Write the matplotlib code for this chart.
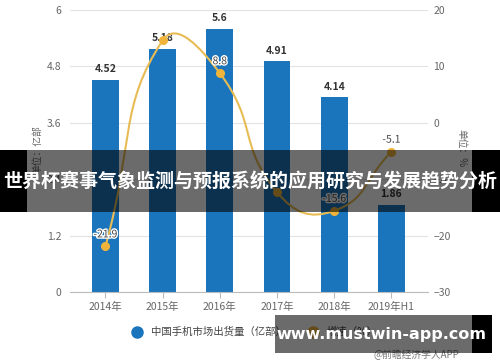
import numpy as np
import matplotlib
matplotlib.use("Agg")
import matplotlib.pyplot as plt
from matplotlib.path import Path
from matplotlib.patches import PathPatch, Rectangle
from matplotlib.lines import Line2D
import matplotlib.patheffects as pe

plt.rcParams['font.family'] = ['Noto Sans CJK SC', 'DejaVu Sans']

# data
years = ['2014年', '2015年', '2016年', '2017年', '2018年', '2019年H1']
shipments = [4.52, 5.18, 5.6, 4.91, 4.14, 1.86]      # 亿部
growth = [-21.9, 14.6, 8.8, -12.3, -15.6, -5.1]       # %
growth_shown = [True, False, True, False, True, True]  # labels visible in picture
left_ticks = [0, 1.2, 2.4, 3.6, 4.8, 6]
right_ticks = [-30, -20, -10, 0, 10, 20]

title = '世界杯赛事气象监测与预报系统的应用研究与发展趋势分析'
site = 'www.mustwin-app.com'

W, H = 500, 362
BLUE = '#1b75bc'
GOLD = '#e8bc55'
MARK = '#f0b43a'
GRID = '#e3e3e3'
TXT = '#666666'


def fx(px):
    return px / W


def fy(py):
    return 1 - py / H


fig = plt.figure(figsize=(5, 3.62), dpi=100)
fig.patch.set_facecolor('white')
ax = fig.add_axes([fx(70), fy(292), fx(428) - fx(70), fy(10) - fy(292)])
ax2 = ax.twinx()

x = np.arange(len(years))
ax.bar(x, shipments, width=0.47, color=BLUE, zorder=2)
ax.set_xlim(-0.62, 5.64)
ax.set_ylim(0, 6)
ax.set_yticks(left_ticks)
ax.set_yticklabels(['0', '1.2', '2.4', '3.6', '4.8', '6'])
ax.set_xticks(x)
ax.set_xticklabels(years)
ax.grid(axis='y', color=GRID, lw=0.8, zorder=0)
ax.set_axisbelow(True)
for s in ['top', 'left', 'right']:
    ax.spines[s].set_visible(False)
ax.spines['bottom'].set_color('#bbbbbb')
ax.tick_params(axis='y', length=0, labelsize=7.5, labelcolor=TXT, pad=6)
ax.tick_params(axis='x', length=4, color='#bbbbbb', labelsize=7.5,
               labelcolor=TXT, pad=3)
for xi, v in zip(x, shipments):
    ax.annotate(f'{v:g}', (xi, v), xytext=(0, 4), textcoords='offset points',
                ha='center', va='bottom', fontsize=7.5, fontweight='bold',
                color='#333333', zorder=5)

ax2.set_ylim(-30, 20)
ax2.set_yticks(right_ticks)
ax2.tick_params(axis='y', length=0, labelsize=7.5, labelcolor=TXT, pad=4)
for s in ['top', 'left', 'right', 'bottom']:
    ax2.spines[s].set_visible(False)

# smooth line (echarts style bezier control points, in pixel space)
ax2.set_xlim(ax.get_xlim())
pts = ax2.transData.transform(np.column_stack([x, growth]))
smooth = 0.5
n = len(pts)
cps_in, cps_out = [], []
for i in range(n):
    prev = pts[max(i - 1, 0)]
    nxt = pts[min(i + 1, n - 1)]
    cur = pts[i]
    v = nxt - prev
    d0 = np.hypot(*(cur - prev))
    d1 = np.hypot(*(cur - nxt))
    tot = d0 + d1
    cps_in.append(cur - v * smooth * d0 / tot)
    cps_out.append(cur + v * smooth * d1 / tot)
verts = [pts[0]]
codes = [Path.MOVETO]
for i in range(n - 1):
    verts += [cps_out[i], cps_in[i + 1], pts[i + 1]]
    codes += [Path.CURVE4] * 3
verts = ax2.transData.inverted().transform(np.array(verts))
ax2.add_patch(PathPatch(Path(verts, codes), fill=False, edgecolor=GOLD,
                        lw=1.5, zorder=3))
ax2.plot(x, growth, 'o', color=MARK, ms=5.5, zorder=4)
for xi, v, show in zip(x, growth, growth_shown):
    if show:
        ax2.annotate(f'{v:g}', (xi, v), xytext=(0, 5), textcoords='offset points',
                     ha='center', va='bottom', fontsize=7.5, color='#444444',
                     zorder=5,
                     path_effects=[pe.withStroke(linewidth=2, foreground='white')])

# axis unit labels
fig.text(fx(37), fy(150), '单位：亿部', rotation=90, ha='center', va='center',
         fontsize=7, color=TXT)
fig.text(fx(461), fy(148), '单位：%', rotation=-90, ha='center', va='center',
         fontsize=7, color=TXT)

# legend
handles = [Line2D([], [], marker='o', ls='none', color=BLUE, ms=8),
           Line2D([], [], marker='o', ls='none', color=MARK, ms=8)]
fig.legend(handles, ['中国手机市场出货量（亿部）', '增速（%）'], loc='center',
           bbox_to_anchor=(fx(252), fy(332)), ncol=2, frameon=False,
           fontsize=7.5, labelcolor='#444444', handletextpad=0.3,
           columnspacing=1.6)
fig.text(fx(416), fy(355), '@前瞻经济学人APP', ha='center', va='center',
         fontsize=7, color='#777777')

# title banner overlay
fig.add_artist(Rectangle((fx(27), fy(212)), fx(472) - fx(27), fy(150) - fy(212),
                         transform=fig.transFigure, color='black', alpha=0.58,
                         lw=0, zorder=10))
fig.add_artist(Rectangle((0, fy(212)), fx(27), fy(150) - fy(212),
                         transform=fig.transFigure, color='black', lw=0, zorder=10))
fig.add_artist(Rectangle((fx(472), fy(212)), 1 - fx(472), fy(150) - fy(212),
                         transform=fig.transFigure, color='black', lw=0, zorder=10))
fig.text(0.5, fy(182), title, ha='center', va='center', fontsize=13.7,
         fontweight='bold', color='white', zorder=11)

# site overlay box
fig.add_artist(Rectangle((fx(275), fy(353)), fx(472) - fx(275), fy(315) - fy(353),
                         transform=fig.transFigure, color='black', alpha=0.58,
                         lw=0, zorder=10))
fig.add_artist(Rectangle((fx(472), fy(353)), fx(492) - fx(472), fy(315) - fy(353),
                         transform=fig.transFigure, color='black', lw=0, zorder=10))
fig.text(fx(381), fy(334), site, ha='center', va='center', fontsize=11.5,
         fontweight='bold', color='white', family=['DejaVu Sans'], zorder=11)

fig.savefig('out.png', dpi=100)
